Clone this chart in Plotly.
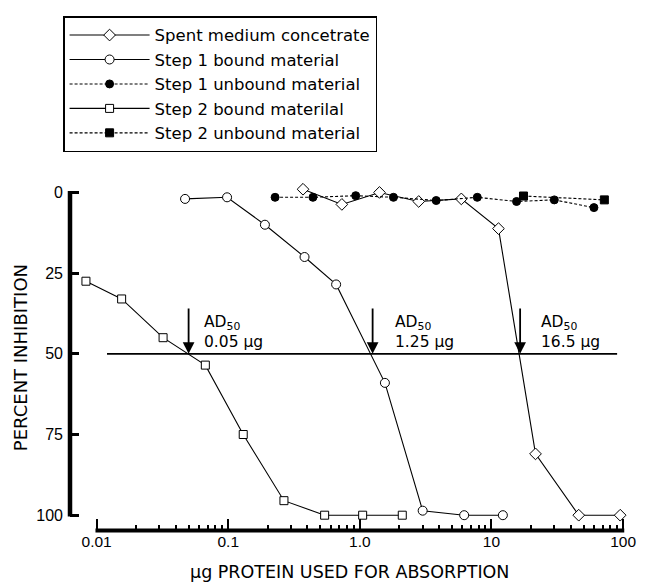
import numpy as np
import plotly.graph_objects as go

# ---------------- data ----------------
spent_x = [0.37, 0.73, 1.41, 2.8, 5.9, 11.3, 21.6, 46, 95]
spent_y = [-1, 3.7, 0, 2.8, 2, 11.2, 81, 100, 100]

s1b_x = [0.047, 0.098, 0.19, 0.38, 0.66, 1.55, 3.0, 6.2, 12.2]
s1b_y = [2, 1.5, 10, 20, 28.5, 59, 98.6, 100, 100]

s1u_x = [0.227, 0.44, 0.93, 1.8, 3.8, 7.8, 15.5, 30, 60]
s1u_y = [1.5, 1.5, 1, 1.5, 2.5, 1.5, 2.8, 2.3, 4.7]

s2b_x = [0.0083, 0.0155, 0.032, 0.067, 0.13, 0.265, 0.54, 1.05, 2.1]
s2b_y = [27.5, 33, 45, 53.5, 75, 95.5, 100, 100, 100]

s2u_x = [17.5, 72]
s2u_y = [1.1, 2.3]

ad50_values = [0.05, 1.25, 16.5]
ad50_labels = ["AD<sub>50</sub><br>0.05 µg", "AD<sub>50</sub><br>1.25 µg", "AD<sub>50</sub><br>16.5 µg"]
ad50_level = 50
ad50_line_span = [0.012, 90]

x_tickvals = [0.01, 0.1, 1, 10, 100]
x_ticktext = ["0.01", "0.1", "1.0", "10", "100"]
y_tickvals = [0, 25, 50, 75, 100]

# ---------------- style / layout ----------------
FONT = "Liberation Sans, Arial, Helvetica, sans-serif"
WIDE = "DejaVu Sans, Verdana, sans-serif"
BLACK = "black"

X_RANGE = [-2.202, 2.037]
Y_RANGE = [102, -2]
Y_DOM = [0.0327, 1]
X_POS = 0.0071

def ypaper(v):
    return Y_DOM[0] + (Y_DOM[1] - Y_DOM[0]) * (Y_RANGE[0] - v) / (Y_RANGE[0] - Y_RANGE[1])

def xpaper(v):
    return (np.log10(v) - X_RANGE[0]) / (X_RANGE[1] - X_RANGE[0])

fig = go.Figure()

def add(name, x, y, symbol, filled, dash, size):
    fig.add_trace(go.Scatter(
        x=x, y=y, name=name, mode="lines+markers",
        line=dict(color=BLACK, width=1.1, dash=dash),
        marker=dict(symbol=symbol, size=size,
                    color=BLACK if filled else "white",
                    line=dict(color=BLACK, width=1)),
        cliponaxis=False,
    ))

DOTTED = "3px,2px"
add("Spent medium concetrate", spent_x, spent_y, "diamond", False, "solid", 9)
add("Step 1 bound material", s1b_x, s1b_y, "circle", False, "solid", 9)
add("Step 1 unbound material", s1u_x, s1u_y, "circle", True, DOTTED, 8)
add("Step 2 bound materilal", s2b_x, s2b_y, "square", False, "solid", 8)
add("Step 2 unbound material", s2u_x, s2u_y, "square", True, DOTTED, 8)

minor_vals = [m * d for d in [0.01, 0.1, 1, 10] for m in range(2, 10)]

shapes = [
    # 50% reference line
    dict(type="line", xref="x", yref="y", x0=ad50_line_span[0], x1=ad50_line_span[1],
         y0=ad50_level, y1=ad50_level, line=dict(color=BLACK, width=1.6), layer="below"),
    # y-axis spine
    dict(type="line", xref="paper", yref="paper", x0=0, x1=0,
         y0=ypaper(y_tickvals[-1]) - 0.004, y1=ypaper(y_tickvals[0]) + 0.004,
         line=dict(color=BLACK, width=4.5)),
    # x-axis spine
    dict(type="line", xref="paper", yref="paper",
         x0=xpaper(x_tickvals[0]) - 0.002, x1=xpaper(x_tickvals[-1]) + 0.002,
         y0=X_POS, y1=X_POS, line=dict(color=BLACK, width=4)),
]

annotations = []
shifts = [13, 20, 19]
for v, lab, sh in zip(ad50_values, ad50_labels, shifts):
    annotations.append(dict(
        x=np.log10(v), y=ad50_level, ax=np.log10(v), ay=35.5,
        xref="x", yref="y", axref="x", ayref="y",
        text="", showarrow=True, arrowhead=2, arrowsize=1.3, arrowwidth=1.8,
        arrowcolor=BLACK))
    annotations.append(dict(
        x=np.log10(v), y=43.2, xref="x", yref="y", text=lab, showarrow=False,
        xanchor="left", yanchor="middle", align="left", xshift=sh,
        font=dict(family=WIDE, size=15.5, color=BLACK)))

annotations.append(dict(
    x=0.5, y=-0.111, xref="paper", yref="paper", text="µg PROTEIN USED FOR ABSORPTION",
    showarrow=False, xanchor="center", yanchor="middle",
    font=dict(family=WIDE, size=17.5, color=BLACK)))
annotations.append(dict(
    x=-0.0883, y=0.506, xref="paper", yref="paper", text="PERCENT INHIBITION",
    showarrow=False, textangle=-90, xanchor="center", yanchor="middle",
    font=dict(family=WIDE, size=18, color=BLACK)))

fig.update_layout(
    width=637, height=577, autosize=False,
    margin=dict(l=62, r=9, t=173, b=52),
    paper_bgcolor="white", plot_bgcolor="white",
    font=dict(family=FONT, size=15, color=BLACK),
    showlegend=True,
    legend=dict(x=-0.0124, y=1.489, xanchor="left", yanchor="top",
                bordercolor=BLACK, borderwidth=1.5, bgcolor="white",
                font=dict(family=WIDE, size=16.5, color=BLACK),
                itemwidth=80, tracegroupgap=0),
    xaxis=dict(type="log", range=X_RANGE, anchor="free", position=X_POS,
               showline=False, showgrid=False, zeroline=False,
               tickmode="array", tickvals=x_tickvals, ticktext=x_ticktext,
               ticks="inside", ticklen=12, tickwidth=2, tickcolor=BLACK,
               tickfont=dict(family=FONT, size=15.5, color=BLACK),
               minor=dict(tickmode="array", tickvals=minor_vals, ticks="inside",
                          ticklen=6, tickwidth=1.5, tickcolor=BLACK, showgrid=False)),
    yaxis=dict(range=Y_RANGE, domain=Y_DOM, anchor="x",
               showline=False, showgrid=False, zeroline=False,
               tickmode="array", tickvals=y_tickvals,
               ticks="inside", ticklen=9, tickwidth=2.5, tickcolor=BLACK,
               ticklabelstandoff=6,
               tickfont=dict(family=FONT, size=16, color=BLACK)),
    shapes=shapes,
    annotations=annotations,
)

fig.write_html("out.html")
